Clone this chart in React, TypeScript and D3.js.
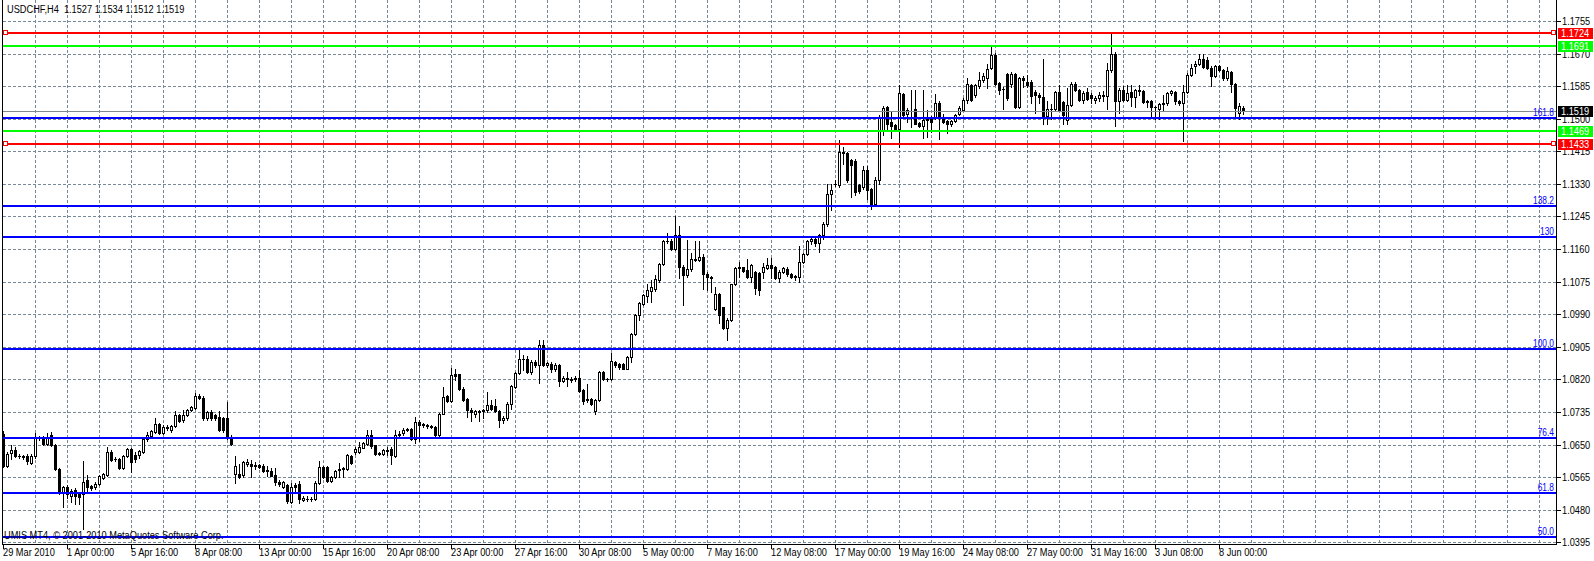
import { useMemo } from "react";
import * as d3 from "d3";

// chart frame
const W = 1594;
const H = 561;
const PLOT_LEFT = 2.5;
const PLOT_RIGHT = 1556.5;
const PLOT_BOTTOM = 544.5;
const SX = 0.84; // horizontal squeeze of the terminal font

const header = "USDCHF,H4\u00a0 1.1527 1.1534 1.1512 1.1519";
const copyright = "UMIS MT4, \u00a9 2001-2010 MetaQuotes Software Corp.";

// H4 bars, 29 Mar 2010 08:00 .. 8 Jun 2010 24:00
const opens = [
  1.0678,1.0595,1.0628,1.0635,1.0620,1.0619,1.0620,1.0603,1.0619,1.0670,
  1.0667,1.0651,1.0675,1.0650,1.0585,1.0525,1.0540,1.0517,1.0532,1.0521,
  1.0521,1.0557,1.0541,1.0539,1.0547,1.0563,1.0570,1.0630,1.0612,1.0612,
  1.0588,1.0619,1.0639,1.0622,1.0622,1.0630,1.0665,1.0672,1.0683,1.0703,
  1.0680,1.0696,1.0687,1.0698,1.0727,1.0713,1.0728,1.0741,1.0746,1.0776,
  1.0772,1.0718,1.0735,1.0726,1.0722,1.0718,1.0720,1.0670,1.0572,1.0572,
  1.0570,1.0600,1.0600,1.0593,1.0597,1.0595,1.0581,1.0580,1.0570,1.0553,
  1.0540,1.0545,1.0501,1.0545,1.0547,1.0505,1.0509,1.0508,1.0508,1.0550,
  1.0592,1.0591,1.0555,1.0565,1.0584,1.0588,1.0586,1.0621,1.0630,1.0630,
  1.0642,1.0652,1.0674,1.0648,1.0629,1.0626,1.0637,1.0639,1.0619,1.0674,
  1.0680,1.0688,1.0691,1.0665,1.0709,1.0700,1.0702,1.0699,1.0696,1.0674,
  1.0731,1.0777,1.0764,1.0833,1.0833,1.0796,1.0770,1.0741,1.0731,1.0736,
  1.0738,1.0739,1.0753,1.0750,1.0738,1.0713,1.0718,1.0756,1.0800,1.0837,
  1.0872,1.0872,1.0839,1.0865,1.0857,1.0909,1.0857,1.0861,1.0848,1.0857,
  1.0816,1.0824,1.0822,1.0824,1.0824,1.0793,1.0769,1.0769,1.0737,1.0767,
  1.0839,1.0822,1.0822,1.0866,1.0860,1.0860,1.0848,1.0878,1.0938,1.0988,
  1.1017,1.1037,1.1051,1.1057,1.1080,1.1121,1.1180,1.1182,1.1160,1.1198,
  1.1114,1.1092,1.1107,1.1133,1.1132,1.1139,1.1095,1.1087,1.1004,1.1044,
  1.1008,1.0953,1.0976,1.1069,1.1110,1.1112,1.1106,1.1088,1.1101,1.1098,
  1.1101,1.1110,1.1119,1.1114,1.1084,1.1101,1.1108,1.1094,1.1089,1.1088,
  1.1126,1.1147,1.1180,1.1186,1.1176,1.1198,1.1225,1.1304,1.1330,1.1326,
  1.1413,1.1410,1.1392,1.1391,1.1326,1.1322,1.1367,1.1317,1.1278,1.1341,
  1.1470,1.1531,1.1491,1.1483,1.1472,1.1564,1.1512,1.1520,1.1526,1.1489,
  1.1480,1.1498,1.1505,1.1503,1.1541,1.1504,1.1494,1.1485,1.1494,1.1513,
  1.1524,1.1550,1.1587,1.1561,1.1585,1.1600,1.1605,1.1632,1.1667,1.1593,
  1.1577,1.1617,1.1591,1.1617,1.1531,1.1605,1.1597,1.1597,1.1570,1.1563,
  1.1558,1.1508,1.1525,1.1525,1.1570,1.1544,1.1496,1.1537,1.1591,1.1576,
  1.1548,1.1570,1.1561,1.1549,1.1554,1.1562,1.1560,1.1626,1.1670,1.1547,
  1.1576,1.1548,1.1571,1.1556,1.1574,1.1573,1.1543,1.1546,1.1530,1.1525,
  1.1538,1.1541,1.1568,1.1570,1.1545,1.1541,1.1570,1.1615,1.1638,1.1643,
  1.1656,1.1652,1.1633,1.1611,1.1637,1.1628,1.1605,1.1622,1.1590,1.1514,
  1.1527,
];

const highs = [
  1.0685,1.0630,1.0648,1.0643,1.0625,1.0623,1.0625,1.0626,1.0680,1.0673,
  1.0672,1.0680,1.0683,1.0652,1.0590,1.0543,1.0545,1.0535,1.0537,1.0525,
  1.0608,1.0570,1.0545,1.0552,1.0570,1.0577,1.0643,1.0635,1.0617,1.0615,
  1.0622,1.0642,1.0642,1.0630,1.0637,1.0668,1.0683,1.0688,1.0718,1.0706,
  1.0700,1.0700,1.0701,1.0737,1.0730,1.0740,1.0744,1.0750,1.0785,1.0782,
  1.0776,1.0738,1.0740,1.0730,1.0737,1.0721,1.0760,1.0675,1.0620,1.0600,
  1.0607,1.0613,1.0610,1.0605,1.0600,1.0600,1.0595,1.0590,1.0590,1.0557,
  1.0555,1.0548,1.0551,1.0551,1.0556,1.0515,1.0515,1.0513,1.0556,1.0607,
  1.0593,1.0593,1.0568,1.0583,1.0602,1.0592,1.0625,1.0624,1.0643,1.0656,
  1.0657,1.0689,1.0689,1.0648,1.0631,1.0638,1.0643,1.0643,1.0687,1.0686,
  1.0692,1.0694,1.0694,1.0722,1.0714,1.0706,1.0704,1.0700,1.0698,1.0733,
  1.0801,1.0780,1.0849,1.0846,1.0835,1.0800,1.0772,1.0745,1.0740,1.0740,
  1.0742,1.0788,1.0766,1.0770,1.0740,1.0725,1.0760,1.0805,1.0840,1.0896,
  1.0883,1.0880,1.0870,1.0870,1.0922,1.0922,1.0866,1.0866,1.0863,1.0861,
  1.0828,1.0839,1.0826,1.0828,1.0844,1.0796,1.0809,1.0772,1.0770,1.0842,
  1.0842,1.0824,1.0889,1.0868,1.0862,1.0862,1.0880,1.0940,1.0991,1.1021,
  1.1042,1.1070,1.1079,1.1092,1.1124,1.1183,1.1202,1.1185,1.1247,1.1219,
  1.1118,1.1184,1.1151,1.1180,1.1180,1.1148,1.1099,1.1090,1.1062,1.1046,
  1.1010,1.0980,1.1070,1.1113,1.1127,1.1114,1.1133,1.1122,1.1104,1.1101,
  1.1123,1.1136,1.1138,1.1117,1.1105,1.1113,1.1112,1.1097,1.1092,1.1167,
  1.1150,1.1183,1.1189,1.1190,1.1200,1.1230,1.1330,1.1330,1.1340,1.1445,
  1.1426,1.1413,1.1396,1.1396,1.1330,1.1377,1.1378,1.1320,1.1347,1.1510,
  1.1533,1.1533,1.1520,1.1486,1.1587,1.1567,1.1527,1.1574,1.1574,1.1491,
  1.1574,1.1522,1.1508,1.1565,1.1545,1.1513,1.1497,1.1497,1.1512,1.1533,
  1.1553,1.1605,1.1590,1.1590,1.1622,1.1620,1.1644,1.1687,1.1672,1.1596,
  1.1583,1.1620,1.1621,1.1620,1.1610,1.1611,1.1615,1.1600,1.1574,1.1567,
  1.1657,1.1547,1.1538,1.1573,1.1587,1.1547,1.1580,1.1595,1.1595,1.1578,
  1.1572,1.1580,1.1568,1.1560,1.1570,1.1572,1.1645,1.1724,1.1673,1.1580,
  1.1585,1.1587,1.1587,1.1578,1.1587,1.1576,1.1550,1.1550,1.1534,1.1541,
  1.1562,1.1570,1.1576,1.1573,1.1550,1.1587,1.1620,1.1642,1.1650,1.1670,
  1.1670,1.1660,1.1637,1.1641,1.1640,1.1630,1.1636,1.1625,1.1593,1.1540,
  1.1534,
];

const lows = [
  1.0591,1.0592,1.0613,1.0618,1.0615,1.0612,1.0600,1.0600,1.0615,1.0663,
  1.0650,1.0648,1.0645,1.0583,1.0521,1.0486,1.0510,1.0500,1.0495,1.0495,
  1.0429,1.0530,1.0532,1.0535,1.0545,1.0560,1.0568,1.0607,1.0608,1.0585,
  1.0585,1.0617,1.0578,1.0605,1.0615,1.0627,1.0660,1.0670,1.0680,1.0677,
  1.0677,1.0688,1.0684,1.0695,1.0709,1.0710,1.0725,1.0738,1.0743,1.0768,
  1.0715,1.0714,1.0714,1.0714,1.0686,1.0683,1.0665,1.0650,1.0550,1.0563,
  1.0565,1.0595,1.0565,1.0587,1.0588,1.0578,1.0569,1.0567,1.0545,1.0543,
  1.0537,1.0497,1.0497,1.0525,1.0498,1.0502,1.0502,1.0502,1.0505,1.0546,
  1.0562,1.0553,1.0553,1.0562,1.0565,1.0565,1.0583,1.0598,1.0626,1.0627,
  1.0640,1.0650,1.0642,1.0624,1.0623,1.0622,1.0622,1.0600,1.0617,1.0670,
  1.0676,1.0685,1.0661,1.0654,1.0660,1.0696,1.0694,1.0692,1.0668,1.0671,
  1.0729,1.0762,1.0762,1.0818,1.0793,1.0763,1.0722,1.0712,1.0722,1.0712,
  1.0718,1.0736,1.0741,1.0734,1.0696,1.0705,1.0715,1.0743,1.0797,1.0834,
  1.0844,1.0836,1.0835,1.0853,1.0810,1.0854,1.0852,1.0839,1.0843,1.0804,
  1.0813,1.0804,1.0813,1.0816,1.0787,1.0756,1.0760,1.0752,1.0730,1.0764,
  1.0818,1.0817,1.0818,1.0853,1.0848,1.0846,1.0846,1.0865,1.0935,1.0975,
  1.1015,1.1023,1.1023,1.1050,1.1073,1.1118,1.1176,1.1157,1.1157,1.1084,
  1.1014,1.1088,1.1104,1.1128,1.1129,1.1055,1.1053,1.1049,1.1000,1.0966,
  1.0951,1.0924,1.0973,1.1066,1.1088,1.1100,1.1085,1.1075,1.1044,1.1040,
  1.1084,1.1107,1.1084,1.1081,1.1075,1.1097,1.1090,1.1084,1.1080,1.1075,
  1.1123,1.1144,1.1174,1.1167,1.1152,1.1185,1.1220,1.1262,1.1325,1.1323,
  1.1383,1.1335,1.1296,1.1301,1.1305,1.1318,1.1291,1.1265,1.1275,1.1330,
  1.1457,1.1470,1.1450,1.1470,1.1426,1.1506,1.1491,1.1478,1.1485,1.1478,
  1.1451,1.1452,1.1465,1.1500,1.1448,1.1488,1.1462,1.1481,1.1491,1.1510,
  1.1520,1.1541,1.1545,1.1558,1.1579,1.1597,1.1581,1.1629,1.1588,1.1564,
  1.1525,1.1550,1.1584,1.1528,1.1528,1.1582,1.1582,1.1540,1.1516,1.1540,
  1.1487,1.1487,1.1499,1.1522,1.1519,1.1485,1.1485,1.1534,1.1573,1.1545,
  1.1540,1.1548,1.1540,1.1542,1.1547,1.1547,1.1525,1.1623,1.1480,1.1514,
  1.1546,1.1545,1.1533,1.1530,1.1563,1.1540,1.1530,1.1507,1.1499,1.1499,
  1.1520,1.1536,1.1562,1.1538,1.1535,1.1441,1.1566,1.1612,1.1620,1.1640,
  1.1633,1.1630,1.1585,1.1608,1.1625,1.1602,1.1602,1.1570,1.1507,1.1500,
  1.1512,
];

const closes = [
  1.0595,1.0626,1.0635,1.0620,1.0619,1.0617,1.0608,1.0619,1.0670,1.0667,
  1.0651,1.0667,1.0648,1.0585,1.0525,1.0540,1.0521,1.0530,1.0517,1.0512,
  1.0553,1.0539,1.0537,1.0547,1.0567,1.0572,1.0630,1.0610,1.0613,1.0588,
  1.0619,1.0639,1.0605,1.0613,1.0632,1.0665,1.0674,1.0685,1.0703,1.0680,
  1.0696,1.0692,1.0698,1.0727,1.0712,1.0728,1.0741,1.0747,1.0776,1.0772,
  1.0718,1.0735,1.0718,1.0718,1.0689,1.0687,1.0670,1.0652,1.0594,1.0565,
  1.0604,1.0604,1.0593,1.0597,1.0591,1.0581,1.0583,1.0569,1.0552,1.0546,
  1.0552,1.0504,1.0540,1.0538,1.0508,1.0510,1.0507,1.0509,1.0550,1.0591,
  1.0565,1.0555,1.0565,1.0581,1.0587,1.0585,1.0622,1.0601,1.0638,1.0643,
  1.0654,1.0674,1.0645,1.0626,1.0626,1.0635,1.0634,1.0622,1.0674,1.0678,
  1.0688,1.0691,1.0665,1.0709,1.0701,1.0703,1.0698,1.0696,1.0674,1.0731,
  1.0775,1.0764,1.0831,1.0829,1.0796,1.0766,1.0741,1.0735,1.0737,1.0738,
  1.0739,1.0753,1.0744,1.0738,1.0713,1.0720,1.0756,1.0802,1.0837,1.0872,
  1.0873,1.0839,1.0865,1.0857,1.0909,1.0857,1.0863,1.0848,1.0857,1.0816,
  1.0824,1.0822,1.0818,1.0820,1.0791,1.0763,1.0765,1.0756,1.0767,1.0839,
  1.0822,1.0820,1.0868,1.0857,1.0853,1.0848,1.0878,1.0938,1.0988,1.1018,
  1.1039,1.1053,1.1060,1.1081,1.1121,1.1180,1.1182,1.1160,1.1197,1.1114,
  1.1092,1.1107,1.1133,1.1132,1.1139,1.1095,1.1086,1.1085,1.1043,1.0988,
  1.0955,1.0976,1.1069,1.1110,1.1112,1.1104,1.1088,1.1119,1.1058,1.1053,
  1.1112,1.1119,1.1110,1.1084,1.1101,1.1110,1.1094,1.1088,1.1088,1.1126,
  1.1147,1.1180,1.1186,1.1176,1.1198,1.1225,1.1304,1.1315,1.1331,1.1413,
  1.1410,1.1339,1.1380,1.1309,1.1312,1.1365,1.1313,1.1278,1.1341,1.1502,
  1.1529,1.1487,1.1480,1.1474,1.1566,1.1509,1.1524,1.1521,1.1487,1.1481,
  1.1498,1.1500,1.1491,1.1541,1.1503,1.1491,1.1485,1.1494,1.1509,1.1529,
  1.1550,1.1590,1.1550,1.1587,1.1600,1.1611,1.1631,1.1667,1.1591,1.1574,
  1.1577,1.1553,1.1617,1.1531,1.1605,1.1600,1.1588,1.1560,1.1561,1.1558,
  1.1508,1.1525,1.1526,1.1570,1.1523,1.1510,1.1537,1.1590,1.1576,1.1548,
  1.1568,1.1551,1.1554,1.1555,1.1562,1.1560,1.1626,1.1670,1.1547,1.1576,
  1.1548,1.1568,1.1556,1.1574,1.1573,1.1543,1.1547,1.1530,1.1531,1.1538,
  1.1541,1.1568,1.1572,1.1545,1.1541,1.1570,1.1615,1.1632,1.1643,1.1655,
  1.1636,1.1633,1.1611,1.1637,1.1628,1.1605,1.1624,1.1590,1.1527,1.1532,
  1.1519,
];

// price axis labels
const priceTicks = [
  1.1755, 1.167, 1.1585, 1.15, 1.1415, 1.133, 1.1245, 1.116, 1.1075,
  1.099, 1.0905, 1.082, 1.0735, 1.065, 1.0565, 1.048, 1.0395,
];

// time axis labels, one every 16 bars
const timeLabels = [
  "29 Mar 2010", "1 Apr 00:00", "5 Apr 16:00", "8 Apr 08:00", "13 Apr 00:00",
  "15 Apr 16:00", "20 Apr 08:00", "23 Apr 00:00", "27 Apr 16:00", "30 Apr 08:00",
  "5 May 00:00", "7 May 16:00", "12 May 08:00", "17 May 00:00", "19 May 16:00",
  "24 May 08:00", "27 May 00:00", "31 May 16:00", "3 Jun 08:00", "8 Jun 00:00",
];

// fibonacci expansion levels
const fiboLabels = ["161.8", "138.2", "130", "100.0", "76.4", "61.8", "50.0"];
const fiboPrices = [1.1503, 1.1273, 1.1192, 1.09, 1.0668, 1.0524, 1.0409];

// support / resistance lines
const levelPrices = [1.1724, 1.1691, 1.1469, 1.1433];
const levelColors = ["#ff0000", "#00ff00", "#00ff00", "#ff0000"];

const bidPrice = 1.1519;

const FONT = "'Liberation Sans', Arial, sans-serif";

const T = ({ x, y, anchor = "start", size = 11, fill = "#000", children }: any) => (
  <text
    transform={`translate(${x},${y}) scale(${SX},1)`}
    textAnchor={anchor}
    fontSize={size}
    fill={fill}
    fontFamily={FONT}
    style={{ whiteSpace: "pre" }}
  >
    {children}
  </text>
);

export default function App() {
  const y = useMemo(
    () => d3.scaleLinear().domain([1.0395, 1.1755]).range([542.3, 21]),
    []
  );
  const x = useMemo(() => d3.scaleLinear().domain([0, 1]).range([3, 7]), []);
  const py = (p: number) => Math.round(y(p));

  const gridX = d3.range(35, PLOT_RIGHT, 32);

  return (
    <svg
      width={W}
      height={H}
      style={{ position: "absolute", left: 0, top: 0, background: "#fff" }}
      shapeRendering="crispEdges"
    >
      <defs>
        <clipPath id="plot">
          <rect x={3} y={0} width={PLOT_RIGHT - 3} height={PLOT_BOTTOM} />
        </clipPath>
      </defs>
      <rect width={W} height={H} fill="#fff" />

      {/* grid */}
      <g stroke="#778899" strokeWidth={1} strokeDasharray="3,2">
        {gridX.map((gx) => (
          <line key={"gx" + gx} x1={gx + 0.5} x2={gx + 0.5} y1={0} y2={PLOT_BOTTOM} />
        ))}
        {priceTicks.map((p) => (
          <line key={"gy" + p} x1={3} x2={PLOT_RIGHT} y1={py(p) + 0.5} y2={py(p) + 0.5} />
        ))}
      </g>

      {/* candles */}
      <g clipPath="url(#plot)">
        {closes.map((c, i) => {
          const o = opens[i];
          const cx = Math.round(x(i));
          const top = py(Math.max(o, c));
          const bot = py(Math.min(o, c));
          return (
            <g key={i}>
              <line x1={cx + 0.5} x2={cx + 0.5} y1={py(highs[i])} y2={py(lows[i]) + 1} stroke="#000" />
              {bot - top < 1 ? (
                <line x1={cx - 1} x2={cx + 2} y1={top + 0.5} y2={top + 0.5} stroke="#000" />
              ) : c >= o ? (
                <rect x={cx - 0.5} y={top + 0.5} width={2} height={bot - top} fill="#fff" stroke="#000" />
              ) : (
                <rect x={cx - 1} y={top} width={3} height={bot - top + 1} fill="#000" />
              )}
            </g>
          );
        })}
      </g>

      {/* bid line */}
      <line x1={3} x2={PLOT_RIGHT} y1={py(bidPrice) + 0.5} y2={py(bidPrice) + 0.5} stroke="#808890" />

      {/* fibo levels */}
      {fiboPrices.map((p, i) => (
        <g key={"f" + i}>
          <line x1={3} x2={PLOT_RIGHT} y1={py(p)} y2={py(p)} stroke="#0000ff" strokeWidth={2} />
          <T x={1554} y={py(p) - 2} anchor="end" size={10} fill="#0000ff">
            {fiboLabels[i]}
          </T>
        </g>
      ))}

      {/* horizontal levels */}
      {levelPrices.map((p, i) => (
        <g key={"l" + i}>
          <line x1={3} x2={PLOT_RIGHT} y1={py(p)} y2={py(p)} stroke={levelColors[i]} strokeWidth={2} />
          {levelColors[i] === "#ff0000" && (
            <>
              <rect x={3.5} y={py(p) - 2.5} width={4} height={4} fill="#fff" stroke="#ff0000" />
              <rect x={1551.5} y={py(p) - 2.5} width={4} height={4} fill="#fff" stroke="#ff0000" />
            </>
          )}
        </g>
      ))}

      {/* frame */}
      <g stroke="#000" strokeWidth={1}>
        <line x1={PLOT_LEFT} x2={PLOT_LEFT} y1={0} y2={PLOT_BOTTOM} />
        <line x1={PLOT_RIGHT} x2={PLOT_RIGHT} y1={0} y2={PLOT_BOTTOM} />
        <line x1={PLOT_LEFT} x2={PLOT_RIGHT} y1={PLOT_BOTTOM} y2={PLOT_BOTTOM} />
        {priceTicks.map((p) => (
          <line key={"t" + p} x1={PLOT_RIGHT} x2={PLOT_RIGHT + 4} y1={py(p) + 0.5} y2={py(p) + 0.5} />
        ))}
        {timeLabels.map((_, i) => (
          <line key={"tt" + i} x1={Math.round(x(i * 16)) + 0.5} x2={Math.round(x(i * 16)) + 0.5} y1={PLOT_BOTTOM} y2={PLOT_BOTTOM + 4} />
        ))}
      </g>

      {/* price axis labels */}
      {priceTicks.map((p) => (
        <T key={"pl" + p} x={1562} y={py(p) + 4}>
          {p.toFixed(4)}
        </T>
      ))}

      {/* price tags on the axis */}
      {[...levelPrices, bidPrice].map((p, i) => (
        <g key={"tag" + i}>
          <rect x={1558} y={py(p) - 5} width={35} height={11} fill={i < 4 ? levelColors[i] : "#000"} />
          <T x={1561} y={py(p) + 4} fill="#fff">
            {p.toFixed(4)}
          </T>
        </g>
      ))}

      {/* time axis labels */}
      {timeLabels.map((t, i) => (
        <T key={"tl" + i} x={Math.round(x(i * 16))} y={556}>
          {t}
        </T>
      ))}

      <T x={7} y={13}>
        {header}
      </T>
      <T x={4} y={539}>
        {copyright}
      </T>
    </svg>
  );
}
